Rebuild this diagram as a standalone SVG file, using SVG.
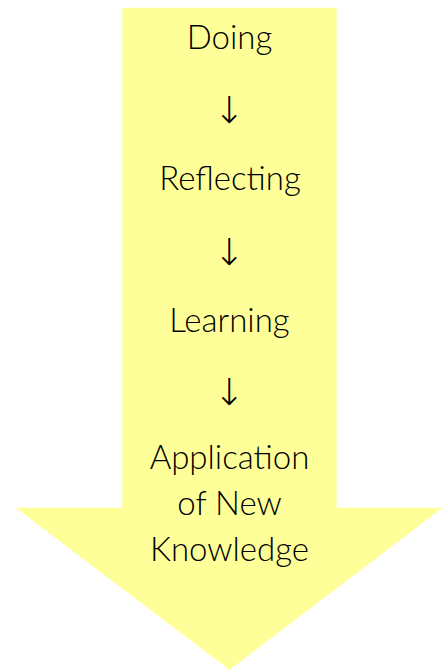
<svg xmlns="http://www.w3.org/2000/svg" width="443" height="670" viewBox="0 0 443 670">
  <style>
    .shape { fill: #ffff99; }
    .label { font-family: Lato, "Noto Sans", "DejaVu Sans", sans-serif; font-weight: 300; font-size: 33px; fill: #000000; text-anchor: middle; }
    .step { font-family: "DejaVu Sans", sans-serif; font-weight: 200; font-size: 37px; fill: #000000; text-anchor: middle; }
  </style>
  <!-- Block arrow pointing down -->
  <g id="arrow">
    <polygon class="shape" points="122.3,7.7 336.7,7.7 336.7,507.7 442.7,507.7 229.5,670 15.7,507.7 122.3,507.7"/>
  </g>
  <g id="doing">
    <text class="label" x="229.5" y="49">Doing</text>
  </g>
  <g id="reflecting">
    <text class="label" x="230" y="189.5">Reflecting</text>
  </g>
  <g id="learning">
    <text class="label" x="229.5" y="331.5">Learning</text>
  </g>
  <g id="application">
    <text class="label" x="229.5" y="469">Application</text>
    <text class="label" x="229.5" y="515">of New</text>
    <text class="label" x="229.5" y="560.5">Knowledge</text>
  </g>
  <!-- Down-arrow characters between the steps -->
  <g id="connectors">
    <text class="step" x="229" y="122.5">↓</text>
    <text class="step" x="229" y="264.5">↓</text>
    <text class="step" x="229" y="405">↓</text>
  </g>
</svg>
